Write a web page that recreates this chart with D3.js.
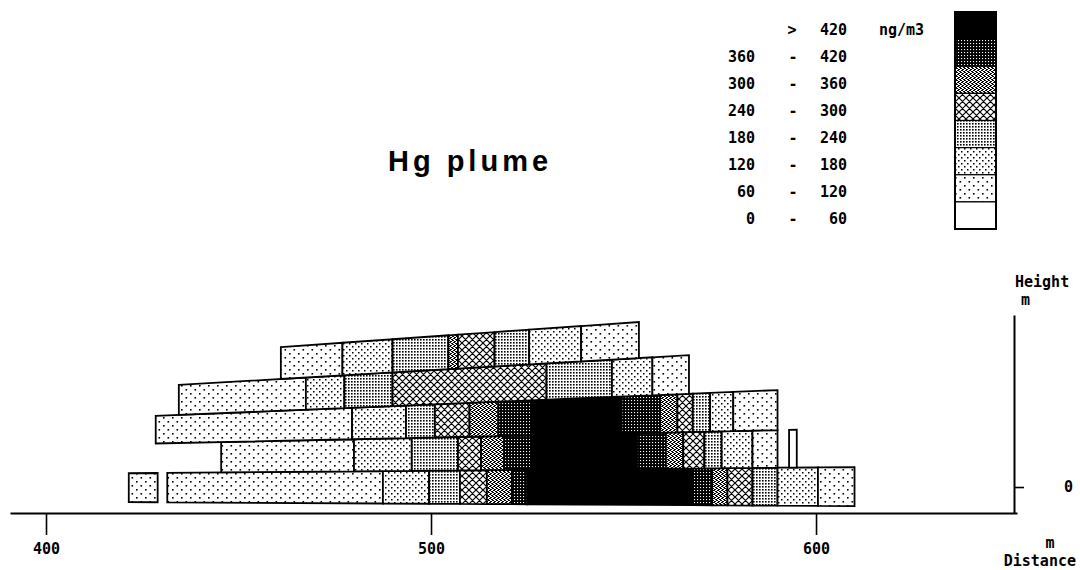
<!DOCTYPE html>
<html>
<head>
<meta charset="utf-8">
<style>
  body { margin: 0; background: #fff; }
  svg { display: block; }
  .mono { font-family: "DejaVu Sans Mono", monospace; font-size: 15px; font-weight: bold; fill: #000; }
  .title { font-family: "Liberation Sans", Arial, sans-serif; font-size: 29px; font-weight: bold; letter-spacing: 4px; }
</style>
<title>Hg plume</title>
</head>
<body>
<script src="https://cdn.jsdelivr.net/npm/d3@7/dist/d3.min.js"></script>
<script>

// concentration classes (ng/m3), index 0..7
var classLow  = [0, 60, 120, 180, 240, 300, 360, 420];
var classHigh = [60, 120, 180, 240, 300, 360, 420, null];

// row boundaries (height in m) at distance 400 m and 600 m, bottom to top
var bound400 = [-3.8, 3.4, 10.7, 17.3, 24.5, 32.1];
var bound600 = [-4.9, 5.1, 15.0, 25.6, 36.2, 46.1];

// cell edges (distance m) and concentration class of each cell, per row; null = gap
var row1Edges   = [421.5, 429, 431.5, 487.5, 499.5, 507.5, 514.5, 521, 525, 568, 573, 577, 583.5, 590, 600.5, 610];
var row1Classes = [1, null, 1, 2, 3, 4, 5, 6, 7, 6, 5, 4, 3, 2, 1];
var row2Edges   = [445.5, 480, 495, 507, 513, 519, 526, 553.5, 561, 565.5, 571, 575.5, 583.5, 590, 593, 595];
var row2Classes = [1, 2, 3, 4, 5, 6, 7, 6, 5, 4, 3, 2, 1, null, 0];
var row3Edges   = [428.5, 479.5, 493.5, 501, 510, 517.5, 526, 549.5, 559.5, 564, 568, 572.5, 578.5, 590];
var row3Classes = [1, 2, 3, 4, 5, 6, 7, 6, 5, 4, 3, 2, 1];
var row4Edges   = [434.5, 467.5, 477.5, 490, 530, 547, 557.5, 567];
var row4Classes = [1, 2, 3, 4, 3, 2, 1];
var row5Edges   = [461, 477, 490, 504.5, 507, 516.5, 525.5, 539, 554];
var row5Classes = [1, 2, 3, 5, 4, 3, 2, 1];

var rowEdges = [row1Edges, row2Edges, row3Edges, row4Edges, row5Edges];
var rowClasses = [row1Classes, row2Classes, row3Classes, row4Classes, row5Classes];

var xTicks = [400, 500, 600];
var yTicks = [0];

var width = 1080, height = 570;

var svg = d3.select("body").append("svg")
  .attr("width", width)
  .attr("height", height);

var x = d3.scaleLinear().domain([390.65, 652.2]).range([10, 1017]);
var y = d3.scaleLinear().domain([-6.75, 44.7]).range([513, 315]);

// fill patterns
var defs = svg.append("defs");
function pat(id, w, h) {
  return defs.append("pattern").attr("id", id)
    .attr("patternUnits", "userSpaceOnUse")
    .attr("width", w).attr("height", h);
}
var p;
p = pat("c1", 9, 8);
p.append("rect").attr("width", 9).attr("height", 8).attr("fill", "#fff");
p.append("rect").attr("x", 1).attr("y", 1).attr("width", 1.6).attr("height", 1.6).attr("fill", "#000");
p.append("rect").attr("x", 5.5).attr("y", 5).attr("width", 1.6).attr("height", 1.6).attr("fill", "#000");

p = pat("c2", 6, 6);
p.append("rect").attr("width", 6).attr("height", 6).attr("fill", "#fff");
p.append("rect").attr("x", 1).attr("y", 1).attr("width", 1.5).attr("height", 1.5).attr("fill", "#000");
p.append("rect").attr("x", 4).attr("y", 4).attr("width", 1.5).attr("height", 1.5).attr("fill", "#000");

p = pat("c3", 3, 3);
p.append("rect").attr("width", 3).attr("height", 3).attr("fill", "#fff");
p.append("rect").attr("width", 1.6).attr("height", 1.6).attr("fill", "#000");

p = pat("c4", 7, 7);
p.append("rect").attr("width", 7).attr("height", 7).attr("fill", "#fff");
p.append("path").attr("d", "M-1,-1L8,8M-1,6L1,8M6,-1L8,1M8,-1L-1,8M1,-1L-1,1M8,6L6,8")
  .attr("stroke", "#000").attr("stroke-width", 1.2);

p = pat("c5", 4, 4);
p.append("rect").attr("width", 4).attr("height", 4).attr("fill", "#fff");
p.append("path").attr("d", "M0,0h2v1h-2zM2,1h2v1h-2zM1,2h2v1h-2zM3,3h1v1h-1zM0,3h1v1h-1z").attr("fill", "#000");

p = pat("c6", 3, 3);
p.append("rect").attr("width", 3).attr("height", 3).attr("fill", "#000");
p.append("rect").attr("x", 1).attr("y", 1).attr("width", 1.1).attr("height", 1.1).attr("fill", "#fff");

var fills = ["#fff", "url(#c1)", "url(#c2)", "url(#c3)", "url(#c4)", "url(#c5)", "url(#c6)", "#000"];

// cells
function bound(k, d) {
  return bound400[k] + (bound600[k] - bound400[k]) * (d - 400) / 200;
}
var cells = [];
rowEdges.forEach(function(edges, r) {
  rowClasses[r].forEach(function(c, i) {
    if (c === null) return;
    cells.push({ row: r, d0: edges[i], d1: edges[i + 1], cls: c });
  });
});

svg.append("g").selectAll("polygon").data(cells).enter()
  .append("polygon")
  .attr("points", function(d) {
    return [
      [x(d.d0), y(bound(d.row + 1, d.d0))],
      [x(d.d1), y(bound(d.row + 1, d.d1))],
      [x(d.d1), y(bound(d.row, d.d1))],
      [x(d.d0), y(bound(d.row, d.d0))]
    ].map(function(pt) { return pt.join(","); }).join(" ");
  })
  .attr("fill", function(d) { return fills[d.cls]; })
  .attr("stroke", "#000")
  .attr("stroke-width", 1.8);

// axes
var xAxis = svg.append("g")
  .attr("transform", "translate(0,513)")
  .call(d3.axisBottom(x).tickValues(xTicks).tickSize(22).tickSizeOuter(0).tickPadding(8));
var yAxis = svg.append("g")
  .attr("transform", "translate(1014,0)")
  .call(d3.axisRight(y).tickValues(yTicks).tickSize(10).tickSizeOuter(0).tickPadding(40));

[xAxis, yAxis].forEach(function(g) {
  g.select(".domain").attr("stroke-width", 2);
  g.selectAll(".tick line").attr("stroke-width", 1.6);
  g.selectAll(".tick text").attr("class", "mono").attr("font-family", null).attr("font-size", null);
});

svg.append("text").attr("class", "mono").attr("x", 1015).attr("y", 287).text("Height");
svg.append("text").attr("class", "mono").attr("x", 1021).attr("y", 305).text("m");
svg.append("text").attr("class", "mono").attr("x", 1050).attr("y", 548).attr("text-anchor", "middle").text("m");
svg.append("text").attr("class", "mono").attr("x", 1076).attr("y", 566).attr("text-anchor", "end").text("Distance");

// title
svg.append("text").attr("class", "title").attr("x", 470).attr("y", 171)
  .attr("text-anchor", "middle").text("Hg plume");

// legend
var legTop = 12, legBottom = 229, legX = 955, legW = 41;
var legOrder = d3.range(7, -1, -1);
var ly = d3.scaleBand().domain(legOrder).range([legTop, legBottom]);

var leg = svg.append("g");
leg.selectAll("rect").data(legOrder).enter().append("rect")
  .attr("x", legX).attr("y", function(c) { return ly(c); })
  .attr("width", legW).attr("height", ly.bandwidth())
  .attr("fill", function(c) { return fills[c]; })
  .attr("stroke", "#000").attr("stroke-width", 1.2);
leg.append("rect")
  .attr("x", legX).attr("y", legTop).attr("width", legW).attr("height", legBottom - legTop)
  .attr("fill", "none").attr("stroke", "#000").attr("stroke-width", 2);

legOrder.forEach(function(c) {
  var by = ly(c) + ly.bandwidth() / 2 + 9;
  if (classHigh[c] === null) {
    leg.append("text").attr("class", "mono").attr("x", 792).attr("y", by).attr("text-anchor", "middle").text(">");
    leg.append("text").attr("class", "mono").attr("x", 847).attr("y", by).attr("text-anchor", "end").text(classLow[c]);
  } else {
    leg.append("text").attr("class", "mono").attr("x", 755).attr("y", by).attr("text-anchor", "end").text(classLow[c]);
    leg.append("text").attr("class", "mono").attr("x", 793).attr("y", by).attr("text-anchor", "middle").text("-");
    leg.append("text").attr("class", "mono").attr("x", 847).attr("y", by).attr("text-anchor", "end").text(classHigh[c]);
  }
});
leg.append("text").attr("class", "mono").attr("x", 879).attr("y", ly(7) + ly.bandwidth() / 2 + 9).text("ng/m3");

</script>
</body>
</html>
